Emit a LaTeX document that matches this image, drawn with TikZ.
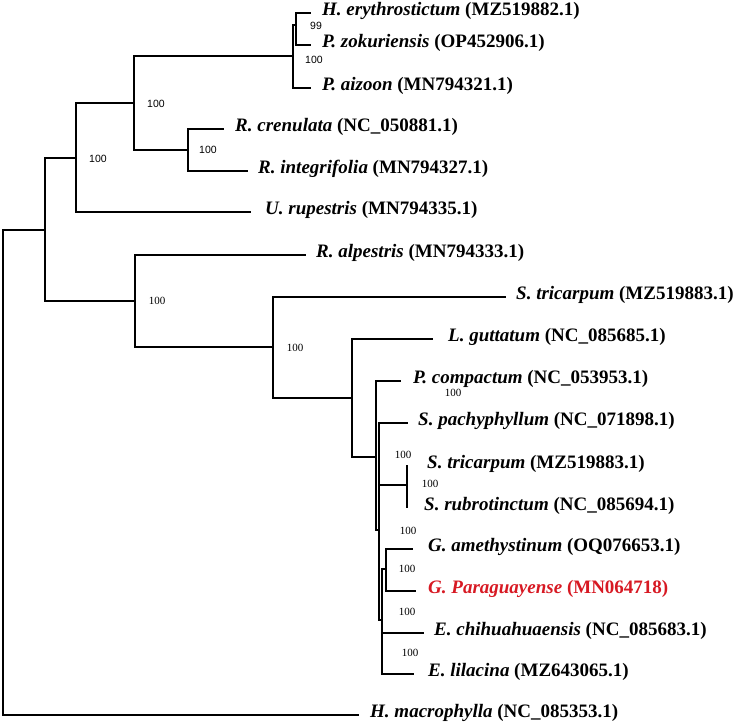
\documentclass[tikz,border=0pt]{standalone}
\usepackage{fontspec}
\setmainfont{Liberation Serif}
\newfontfamily\bsansfont{Liberation Sans}
\definecolor{redlab}{RGB}{215,25,35}
\begin{document}
\begin{tikzpicture}[x=1pt,y=-1pt,
  branch/.style={line width=2.2pt, line cap=rect},
  taxon/.style={anchor=mid west, inner sep=0pt, font=\fontsize{19}{22}\selectfont\bfseries},
  bsup/.style={inner sep=0pt, font=\fontsize{11}{12}\selectfont},
  bsups/.style={inner sep=0pt, font=\bsansfont\fontsize{10.5}{12}\selectfont}]
\useasboundingbox (0,0) rectangle (750,724);
% internal nodes
\coordinate (r) at (3,472);
\coordinate (n1) at (45,230);
\coordinate (n2) at (76,158);
\coordinate (n3) at (134,103);
\coordinate (n4) at (293,56);
\coordinate (n5) at (296,25);
\coordinate (n6) at (188,150);
\coordinate (n7) at (135,301);
\coordinate (n8) at (273,347);
\coordinate (n9) at (352,398);
\coordinate (n10) at (376,457);
\coordinate (n11) at (379,530);
\coordinate (n12) at (407,485);
\coordinate (n14) at (382,620);
\coordinate (n13) at (386,569);
% tips
\coordinate (tHery) at (310,13);
\coordinate (tPzok) at (310,45);
\coordinate (tPaiz) at (310,88);
\coordinate (tRcre) at (223,129);
\coordinate (tRint) at (247,171);
\coordinate (tUrup) at (250,212);
\coordinate (tRalp) at (305,255);
\coordinate (tStrA) at (505,297);
\coordinate (tLgut) at (432,339);
\coordinate (tPcom) at (400,381);
\coordinate (tSpac) at (407,423);
\coordinate (tStrB) at (407,466);
\coordinate (tSrub) at (407,507);
\coordinate (tGame) at (412,549);
\coordinate (tGpar) at (415,591);
\coordinate (tEchi) at (423,633);
\coordinate (tElil) at (413,674);
\coordinate (tHmac) at (358,715);
% branches
\draw[branch] (r) |- (n1) (r) |- (tHmac);
\draw[branch] (n1) |- (n2) (n1) |- (n7);
\draw[branch] (n2) |- (n3) (n2) |- (tUrup);
\draw[branch] (n3) |- (n4) (n3) |- (n6);
\draw[branch] (n4) |- (n5) (n4) |- (tPaiz);
\draw[branch] (n5) |- (tHery) (n5) |- (tPzok);
\draw[branch] (n6) |- (tRcre) (n6) |- (tRint);
\draw[branch] (n7) |- (tRalp) (n7) |- (n8);
\draw[branch] (n8) |- (tStrA) (n8) |- (n9);
\draw[branch] (n9) |- (tLgut) (n9) |- (n10);
\draw[branch] (n10) |- (tPcom) (n10) |- (n11);
\draw[branch] (n11) |- (tSpac) (n11) |- (n12) (n11) |- (n14);
\draw[branch] (n12) |- (tStrB) (n12) |- (tSrub);
\draw[branch] (n14) |- (n13) (n14) |- (tEchi) (n14) |- (tElil);
\draw[branch] (n13) |- (tGame) (n13) |- (tGpar);
% taxon labels
\node[taxon] (lHery) at (322,13) {\textit{H. erythrostictum} (MZ519882.1)};
\node[taxon] (lPzok) at (322,45) {\textit{P. zokuriensis} (OP452906.1)};
\node[taxon] (lPaiz) at (322,88) {\textit{P. aizoon} (MN794321.1)};
\node[taxon] (lRcre) at (235,129) {\textit{R. crenulata} (NC\_050881.1)};
\node[taxon] (lRint) at (258,171) {\textit{R. integrifolia} (MN794327.1)};
\node[taxon] (lUrup) at (265,212) {\textit{U. rupestris} (MN794335.1)};
\node[taxon] (lRalp) at (316,255) {\textit{R. alpestris} (MN794333.1)};
\node[taxon] (lStrA) at (516,297) {\textit{S. tricarpum} (MZ519883.1)};
\node[taxon] (lLgut) at (448,339) {\textit{L. guttatum} (NC\_085685.1)};
\node[taxon] (lPcom) at (413,381) {\textit{P. compactum} (NC\_053953.1)};
\node[taxon] (lSpac) at (418,423) {\textit{S. pachyphyllum} (NC\_071898.1)};
\node[taxon] (lStrB) at (427,466) {\textit{S. tricarpum} (MZ519883.1)};
\node[taxon] (lSrub) at (424,508) {\textit{S. rubrotinctum} (NC\_085694.1)};
\node[taxon] (lGame) at (428,549) {\textit{G. amethystinum} (OQ076653.1)};
\node[taxon, text=redlab] (lGpar) at (428,591) {\textit{G. Paraguayense} (MN064718)};
\node[taxon] (lEchi) at (434,633) {\textit{E. chihuahuaensis} (NC\_085683.1)};
\node[taxon] (lElil) at (428,674) {\textit{E. lilacina} (MZ643065.1)};
\node[taxon] (lHmac) at (370,715) {\textit{H. macrophylla} (NC\_085353.1)};
% bootstrap values
\node[bsups] (b1) at (316,26) {99};
\node[bsups] (b2) at (314,60) {100};
\node[bsups] (b3) at (156,104) {100};
\node[bsups] (b4) at (98,159) {100};
\node[bsups] (b5) at (208,150) {100};
\node[bsup] (b6) at (157,301) {100};
\node[bsup] (b7) at (295,348) {100};
\node[bsup] (b8) at (453,393) {100};
\node[bsup] (b9) at (403,455) {100};
\node[bsup] (b10) at (430,484) {100};
\node[bsup] (b11) at (408,531) {100};
\node[bsup] (b12) at (407,569) {100};
\node[bsup] (b13) at (407,612) {100};
\node[bsup] (b14) at (410,653) {100};
\end{tikzpicture}
\end{document}
